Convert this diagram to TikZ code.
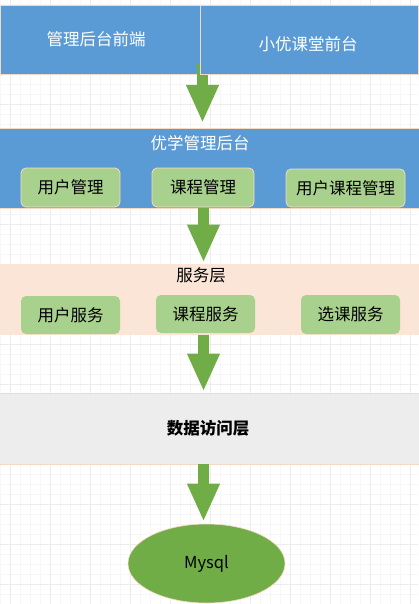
\documentclass[tikz,border=0pt]{standalone}
\usepackage{fontspec}
\setmainfont{Noto Sans CJK SC}
\usetikzlibrary{arrows.meta,shapes.geometric}
\definecolor{blueband}{HTML}{5B9BD5}
\definecolor{peach}{HTML}{FBE5D6}
\definecolor{peachline}{HTML}{F6D9C2}
\definecolor{lightgreen}{HTML}{A9D18E}
\definecolor{darkgreen}{HTML}{70AD47}
\definecolor{greyband}{HTML}{EDEDED}
\definecolor{gridmajor}{HTML}{ECECEC}
\definecolor{gridminor}{HTML}{F7F7F7}
\tikzset{
  txt/.style={font=\fontsize{16.5}{20}\selectfont, inner sep=0pt},
  band/.style={draw=peachline, line width=0.8pt, inner sep=0pt},
  subbox/.style={rounded corners=5pt, fill=lightgreen, inner sep=0pt, txt},
  bigarrow/.style={draw=darkgreen, line width=11pt, -{Triangle[width=30pt,length=38pt]}},
}
\begin{document}
\begin{tikzpicture}[x=1pt,y=-1pt]
\useasboundingbox (0,0) rectangle (418,604);
% grid
\foreach \i in {0,...,41} {\draw[gridminor, line width=0.6pt] (0.7+10*\i,0) -- (0.7+10*\i,604);}
\foreach \j in {0,...,60} {\draw[gridminor, line width=0.6pt] (0,4.5+10*\j) -- (418,4.5+10*\j);}
\foreach \i in {0,...,10} {\draw[gridmajor, line width=0.8pt] (10.7+40*\i,0) -- (10.7+40*\i,604);}
\foreach \j in {0,...,14} {\draw[gridmajor, line width=0.8pt] (0,24.5+40*\j) -- (418,24.5+40*\j);}

\coordinate (ax) at (203.5,0);
\coordinate (ax1) at (202.5,0);

% top boxes
\node[band, fill=blueband, minimum width=200pt, minimum height=69pt] (admin) at (100,39.5) {};
\node[txt, text=white] (admintxt) at (96,39) {管理后台前端};
\coordinate (a1start) at (202.5,64);
\coordinate (a1end) at (202.5,123);
\draw[bigarrow] (a1start) -- (a1end);
\node[band, fill=blueband, minimum width=218pt, minimum height=69pt] (front) at (309,39.5) {};
\node[txt, text=white] (fronttxt) at (308,44) {小优课堂前台};

% management band
\node[band, fill=blueband, minimum width=420pt, minimum height=80pt] (mgmt) at (209,168) {};
\node[txt, text=white] (mgmttxt) at (200,143) {优学管理后台};
\node[subbox, draw=peachline, line width=0.8pt, minimum width=99pt, minimum height=39pt] (um) at (70.5,187.5) {用户管理};
\node[subbox, draw=peachline, line width=0.8pt, minimum width=102pt, minimum height=39pt] (cm) at (203,187.5) {课程管理};
\node[subbox, draw=peachline, line width=0.8pt, minimum width=119pt, minimum height=38pt] (ucm) at (345.5,188) {用户课程管理};

% service band
\node[band, fill=peach, draw=none, minimum width=420pt, minimum height=71pt] (svc) at (209,299.5) {};
\node[txt] (svctxt) at (201,275) {服务层};
\node[subbox, minimum width=99pt, minimum height=38pt] (us) at (70.5,315) {用户服务};
\node[subbox, minimum width=99pt, minimum height=38pt] (cs) at (205.5,314) {课程服务};
\node[subbox, minimum width=99pt, minimum height=39pt] (ss) at (350.5,314.5) {选课服务};

% data layer
\node[band, fill=greyband, minimum width=420pt, minimum height=71pt] (data) at (209,428.5) {};
\node[txt, font=\fontsize{16.5}{20}\selectfont\bfseries] (datatxt) at (208,428) {数据访问层};

% database
\node[ellipse, fill=darkgreen, draw=peachline, line width=0.6pt, minimum width=157pt, minimum height=79pt, inner sep=0pt, txt] (db) at (206.5,563.5) {Mysql};

% arrows
\draw[bigarrow] (ax |- mgmt.south) -- ([yshift=1pt]ax |- svc.north);
\draw[bigarrow] (ax |- svc.south) -- ([yshift=1pt]ax |- data.north);
\draw[bigarrow] (ax |- data.south) -- ([yshift=2pt]ax |- db.north);
\end{tikzpicture}
\end{document}
